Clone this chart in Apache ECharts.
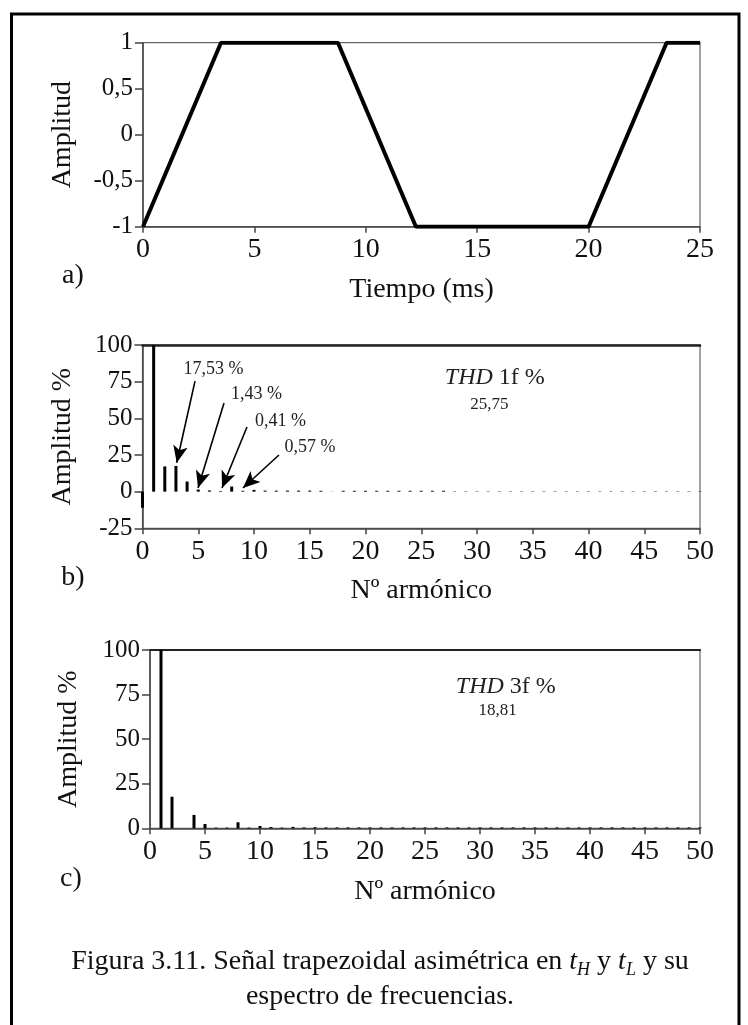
<!DOCTYPE html>
<html><head><meta charset="utf-8">
<script src="https://cdn.jsdelivr.net/npm/echarts@6/dist/echarts.min.js"></script>
<style>html,body{margin:0;padding:0;background:#fff}#c{width:748px;height:1025px}</style>
</head><body><div id="c"></div>
<script>
// ---- data ----
const timeMs    = [0, 3.5, 8.75, 12.25, 20, 23.5, 25];
const amplitude = [-1, 1, 1, -1, -1, 1, 1];

const harmonics = Array.from({length: 51}, (_, i) => i);
const spectrumB = [-11, 100, 17.2, 17.53, 6.9, 1.43, 0.8, 0.41, 3.5, 0.57,
  1.2, 0.7, 0.7, 0.7, 0.7, 0.7, 0.6, 0.1, 0.6, 0.6,
  0.6, 0.6, 0.6, 0.6, 0.6, 0.6, 0.6, 0.6, 0.25, 0.25,
  0.25, 0.25, 0.25, 0.25, 0.25, 0.25, 0.25, 0.25, 0.25, 0.25,
  0.25, 0.25, 0.25, 0.25, 0.25, 0.25, 0.25, 0.25, 0.25, 0.25, 0.25];
const spectrumC = [0, 100, 17.7, 0, 7.5, 2.4, 0.4, 0.4, 3.4, 0.4,
  1.3, 0.7, 0.4, 0.8, 0.5, 0.6, 0.5, 0.5, 0.5, 0.5,
  0.5, 0.5, 0.5, 0.5, 0.5, 0.5, 0.5, 0.5, 0.5, 0.5,
  0.5, 0.5, 0.5, 0.5, 0.5, 0.5, 0.5, 0.5, 0.5, 0.5,
  0.5, 0.5, 0.5, 0.5, 0.5, 0.5, 0.5, 0.5, 0.5, 0.5, 0.5];

// arrows in panel b: [x0, y0, x1, y1] in data units
const arrowsB = [[4.71, 75.4, 3.07, 19.7], [7.31, 60.4, 4.98, 2.5], [9.37, 44.1, 7.13, 2.5], [12.24, 25.0, 9.01, 2.5]];
const arrowLabelsB = ['17,53 %', '1,43 %', '0,41 %', '0,57 %'];
const arrowLabelPosB = [[6.37, 83.3], [10.22, 66.5], [12.38, 48], [15.02, 30.5]];
const thdB = {title: '1f %', value: '25,75', titlePos: [31.6, 77.6], valuePos: [31.1, 59.5]};
const thdC = {title: '3f %', value: '18,81', titlePos: [32.35, 79.4], valuePos: [31.6, 66.3]};

const FONT = 'Liberation Serif';
const INK = '#111';
const fmtComma = v => String(v).replace('.', ',');

const chart = echarts.init(document.getElementById('c'), null, {renderer: 'canvas'});

function xAx(gi, max, name, nameGap) {
  return {
    type: 'value', gridIndex: gi, min: 0, max: max, interval: 5,
    name: name, nameLocation: 'middle', nameGap: nameGap,
    nameTextStyle: {fontFamily: FONT, fontSize: 28, color: INK},
    axisLine: {show: true, onZero: false, lineStyle: {color: '#444', width: 1.5}},
    axisTick: {show: true, length: 6, lineStyle: {color: '#444', width: 1.5}},
    axisLabel: {fontFamily: FONT, fontSize: 28, color: INK, margin: 9},
    splitLine: {show: false}
  };
}
function topAx(gi, max, w) {
  return {type: 'value', gridIndex: gi, position: 'top', min: 0, max: max,
    axisLine: {show: true, onZero: false, lineStyle: {color: '#222', width: w}},
    axisTick: {show: false}, axisLabel: {show: false}, splitLine: {show: false}};
}
function yAx(gi, min, max, interval, name, nameGap) {
  return {
    type: 'value', gridIndex: gi, min: min, max: max, interval: interval,
    name: name, nameLocation: 'middle', nameGap: nameGap,
    nameTextStyle: {fontFamily: FONT, fontSize: 28, color: INK},
    axisLine: {show: true, onZero: false, lineStyle: {color: '#444', width: 1.5}},
    axisTick: {show: true, length: 8, lineStyle: {color: '#444', width: 1.5}},
    axisLabel: {fontFamily: FONT, fontSize: 25, color: INK, margin: 10, formatter: fmtComma},
    splitLine: {show: false}
  };
}
const gridStyle = {show: true, borderColor: '#666', borderWidth: 1.2, backgroundColor: 'transparent'};

const labelMP = (pos, text, size) => ({coord: pos, name: text, symbolSize: 0,
  label: {show: true, position: 'inside', formatter: '{b}', fontFamily: FONT, fontSize: size, color: '#222'}});
const thdMP = (t) => [
  {coord: t.titlePos, name: t.title, symbolSize: 0,
   label: {show: true, position: 'inside', formatter: '{i|THD} {b}', fontFamily: FONT, fontSize: 24, color: '#222',
           rich: {i: {fontFamily: FONT, fontSize: 24, fontStyle: 'italic', color: '#222'}}}},
  labelMP(t.valuePos, t.value, 17)
];

const option = {
  animation: false,
  backgroundColor: '#fff',
  grid: [
    Object.assign({left: 143, right: 48, top: 42.7, height: 184}, gridStyle),
    Object.assign({left: 142.5, right: 48, top: 345, height: 183.3}, gridStyle),
    Object.assign({left: 150, right: 48, top: 650, height: 178.3}, gridStyle)
  ],
  xAxis: [
    xAx(0, 25, 'Tiempo (ms)', 49),
    xAx(1, 50, 'Nº armónico', 48),
    xAx(2, 50, 'Nº armónico', 49),
    topAx(1, 50, 2.5),
    topAx(2, 50, 2.2)
  ],
  yAxis: [
    yAx(0, -1, 1, 0.5, 'Amplitud', 66),
    yAx(1, -25, 100, 25, 'Amplitud %', 66),
    yAx(2, 0, 100, 25, 'Amplitud %', 67)
  ],
  series: [
    {type: 'line', xAxisIndex: 0, yAxisIndex: 0, symbol: 'none',
     lineStyle: {color: '#000', width: 4}, data: timeMs.map((t, i) => [t, amplitude[i]])},
    {type: 'bar', xAxisIndex: 1, yAxisIndex: 1, barWidth: 3,
     itemStyle: {color: '#000'}, data: harmonics.map((h, i) => [h, spectrumB[i]]),
     markLine: {silent: true, symbol: ['none', 'arrow'], symbolSize: [11, 17], precision: 4,
       lineStyle: {color: '#000', width: 1.6, type: 'solid'}, label: {show: false},
       data: arrowsB.map(a => [{coord: [a[0], a[1]]}, {coord: [a[2], a[3]]}])},
     markPoint: {silent: true, symbol: 'circle',
       data: arrowLabelsB.map((t, i) => labelMP(arrowLabelPosB[i], t, 18)).concat(thdMP(thdB))}},
    {type: 'bar', xAxisIndex: 2, yAxisIndex: 2, barWidth: 3,
     itemStyle: {color: '#000'}, data: harmonics.map((h, i) => [h, spectrumC[i]]),
     markPoint: {silent: true, symbol: 'circle', data: thdMP(thdC)}}
  ],
  graphic: [
    {type: 'rect', shape: {x: 11.5, y: 14, width: 727.5, height: 1100}, style: {fill: 'none', stroke: '#000', lineWidth: 3}},
    {type: 'text', x: 73, y: 276, style: {text: 'a)', font: '28px "Liberation Serif"', fill: INK, align: 'center', verticalAlign: 'middle'}},
    {type: 'text', x: 73, y: 578, style: {text: 'b)', font: '28px "Liberation Serif"', fill: INK, align: 'center', verticalAlign: 'middle'}},
    {type: 'text', x: 71, y: 879, style: {text: 'c)', font: '28px "Liberation Serif"', fill: INK, align: 'center', verticalAlign: 'middle'}},
    {type: 'text', x: 380, y: 944, style: {
      text: 'Figura 3.11. Señal trapezoidal asimétrica en {i|t}{s|H} y {i|t}{s|L} y su\nespectro de frecuencias.',
      font: '28px "Liberation Serif"', fill: INK, align: 'center', verticalAlign: 'top', lineHeight: 35,
      rich: {
        i: {fontFamily: FONT, fontSize: 28, fontStyle: 'italic', fill: INK, lineHeight: 35},
        s: {fontFamily: FONT, fontSize: 18, fontStyle: 'italic', fill: INK, verticalAlign: 'bottom', lineHeight: 22}
      }}}
  ]
};
chart.setOption(option);
</script></body></html>
